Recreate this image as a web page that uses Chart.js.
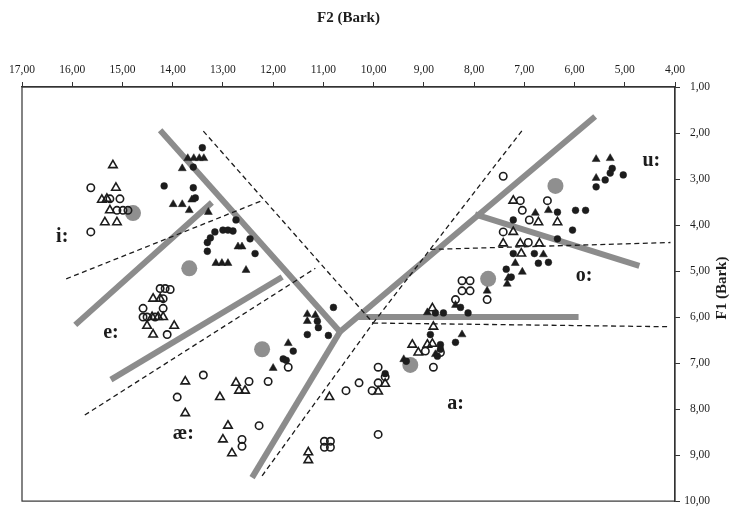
<!DOCTYPE html>
<html><head><meta charset="utf-8">
<script src="https://cdn.jsdelivr.net/npm/chart.js@4.4.1/dist/chart.umd.min.js"></script>
<style>html,body{margin:0;padding:0;background:#fff}</style>
</head><body>
<canvas id="c" width="736" height="514"></canvas>
<script>
// Axis ticks
const f2Ticks = [17,16,15,14,13,12,11,10,9,8,7,6,5,4];
const f1Ticks = [1,2,3,4,5,6,7,8,9,10];

// Vowel labels
const vowelLabels = ['i:','e:','æ:','a:','o:','u:'];
const labelF2 = [16.20,15.23,13.79,8.37,5.81,4.47];
const labelF1 = [4.25,6.34,8.53,7.89,5.11,2.60];

// Vowel means (big grey dots) [F2, F1]
const means = [[14.79,3.74],[13.67,4.94],[12.22,6.70],[9.27,7.04],[7.72,5.17],[6.38,3.15]];

// Open circles [F2, F1]
const openCircles = [
  [15.63,3.19],[15.25,3.43],[15.05,3.43],[15.11,3.68],[14.99,3.68],[14.89,3.68],[15.63,4.15],
  [14.25,5.38],[14.15,5.38],[14.05,5.40],[14.19,5.60],[14.59,5.81],[14.19,5.81],[14.59,6.00],[14.51,6.00],[14.35,6.00],[14.11,6.38],
  [11.70,7.09],[13.39,7.26],[12.48,7.40],[12.10,7.40],[13.91,7.74],[10.55,7.60],[12.28,8.36],[12.62,8.66],[12.62,8.81],
  [10.98,8.70],[10.86,8.70],[10.98,8.83],[10.86,8.83],
  [8.37,5.62],[8.24,5.21],[8.08,5.21],[8.24,5.43],[8.08,5.43],[7.74,5.62],[8.97,6.74],[8.67,6.77],[8.81,7.09],
  [9.91,7.09],[9.77,7.30],[10.29,7.43],[9.91,7.43],[10.03,7.60],[9.91,8.55],
  [7.42,2.94],[7.08,3.47],[6.54,3.47],[7.04,3.68],[6.90,3.89],[7.42,4.15],[6.92,4.38]
];

// Open triangles [F2, F1]
const openTriangles = [
  [15.19,2.70],[15.13,3.19],[15.41,3.45],[15.31,3.43],[15.25,3.68],[15.35,3.94],[15.11,3.94],
  [14.39,5.60],[14.25,5.60],[14.41,6.00],[14.29,6.00],[14.19,6.00],[14.51,6.19],[13.97,6.19],[14.39,6.38],
  [13.75,7.40],[12.74,7.43],[12.68,7.60],[12.56,7.60],[13.06,7.74],[10.88,7.74],[13.75,8.09],[12.90,8.36],
  [13.00,8.66],[12.82,8.96],[11.30,8.94],[11.30,9.11],
  [8.83,5.81],[8.81,6.21],[9.23,6.60],[8.93,6.60],[8.83,6.58],[9.11,6.77],[9.77,7.45],[9.91,7.62],
  [7.22,3.47],[6.72,3.94],[6.34,3.94],[7.22,4.15],[7.42,4.40],[7.08,4.40],[6.70,4.40],[7.06,4.62]
];

// Filled circles [F2, F1]
const filledCircles = [
  [13.41,2.32],[13.59,2.74],[14.17,3.15],[13.59,3.19],[13.55,3.41],[12.74,3.89],[13.00,4.11],[12.90,4.11],
  [12.80,4.13],[13.16,4.15],[13.25,4.28],[13.31,4.38],[13.31,4.57],[12.46,4.30],[12.36,4.62],
  [10.80,5.79],[11.12,6.09],[11.10,6.23],[11.32,6.38],[10.90,6.40],[11.60,6.74],[11.80,6.91],[11.74,6.94],
  [8.27,5.79],[8.77,5.91],[8.61,5.91],[8.12,5.91],[8.87,6.38],[8.37,6.55],[8.67,6.60],[8.67,6.70],[8.73,6.85],
  [9.35,6.96],[9.77,7.23],
  [6.34,3.72],[5.98,3.68],[5.78,3.68],[7.22,3.89],[6.04,4.11],[6.34,4.30],[7.22,4.62],[6.80,4.62],[6.72,4.83],
  [6.52,4.81],[7.36,4.96],[7.26,5.13],
  [5.25,2.77],[5.29,2.87],[5.39,3.02],[5.03,2.91],[5.57,3.17]
];

// Filled triangles [F2, F1]
const filledTriangles = [
  [13.70,2.55],[13.58,2.55],[13.47,2.55],[13.38,2.55],[13.81,2.77],[13.62,3.45],[13.99,3.55],[13.81,3.55],
  [13.67,3.68],[13.29,3.72],[12.70,4.47],[12.62,4.47],[13.14,4.83],[13.02,4.83],[12.90,4.83],[12.54,4.98],
  [11.32,5.94],[11.32,6.09],[11.16,5.96],[11.70,6.57],[12.00,7.11],
  [8.37,5.74],[8.93,5.90],[8.24,6.38],[8.77,6.81],[9.40,6.92],[7.74,5.43],
  [6.78,3.74],[6.52,3.68],[6.62,4.64],[7.18,4.83],[7.04,5.02],[7.32,5.15],[7.34,5.28],
  [5.57,2.57],[5.29,2.55],[5.57,2.98]
];

// Thick grey boundary lines (polylines) [F2, F1]
const boundaryLines = [
  [[14.25,1.94],[10.67,6.32]],
  [[15.94,6.17],[13.22,3.51]],
  [[15.23,7.36],[11.82,5.13]],
  [[12.42,9.49],[10.67,6.32]],
  [[10.67,6.32],[5.59,1.64]],
  [[10.31,6.00],[5.92,6.00]],
  [[7.98,3.77],[4.71,4.89]]
];

// Dashed boundary lines [F2, F1]
const dashedLines = [
  [[16.12,5.17],[12.22,3.47]],
  [[13.39,1.96],[10.01,6.13]],
  [[15.75,8.13],[11.16,4.94]],
  [[12.22,9.45],[10.01,6.13]],
  [[10.01,6.13],[4.13,6.21]],
  [[10.01,6.13],[7.04,1.94]],
  [[8.87,4.53],[4.09,4.38]]
];

const toXY = arr => arr.map(p => ({x: p[0], y: p[1]}));
const fmt = v => Number(v).toFixed(2).replace('.', ',');
const SERIF = "'Liberation Serif', 'DejaVu Serif', serif";
const INK = '#1c1c1c';

const datasets = [];
datasets.push({data: toXY(openCircles), pointStyle: 'circle', pointRadius: 3.7, borderWidth: 1.6,
  borderColor: INK, backgroundColor: 'rgba(0,0,0,0)', order: 0});
datasets.push({data: toXY(openTriangles), pointStyle: 'triangle', pointRadius: 4.9, borderWidth: 1.6,
  borderColor: INK, backgroundColor: 'rgba(0,0,0,0)', order: 0});
datasets.push({data: toXY(filledCircles), pointStyle: 'circle', pointRadius: 3.4, borderWidth: 0.5,
  borderColor: INK, backgroundColor: INK, order: 0});
datasets.push({data: toXY(filledTriangles), pointStyle: 'triangle', pointRadius: 4.6, borderWidth: 0.5,
  borderColor: INK, backgroundColor: INK, order: 0});
datasets.push({data: toXY(means), pointStyle: 'circle', pointRadius: 8, borderWidth: 0,
  backgroundColor: '#8f8f8f', order: 1});
dashedLines.forEach(l => datasets.push({data: toXY(l), showLine: true, pointRadius: 0,
  borderColor: INK, borderWidth: 1.3, borderDash: [5, 3.5], order: 2}));
boundaryLines.forEach(l => datasets.push({data: toXY(l), showLine: true, pointRadius: 0,
  borderColor: '#8c8c8c', borderWidth: 6, borderCapStyle: 'butt', order: 3}));

const decor = {
  id: 'decor',
  beforeDatasetsDraw(chart) {
    const {ctx, chartArea: a} = chart;
    ctx.save();
    ctx.strokeStyle = '#333';
    ctx.lineWidth = 1.2;
    ctx.strokeRect(a.left, a.top, a.right - a.left, a.bottom - a.top);
    ctx.restore();
  },
  afterDatasetsDraw(chart) {
    const {ctx, scales: {x, y}} = chart;
    ctx.save();
    ctx.fillStyle = INK;
    ctx.font = 'bold 20px ' + SERIF;
    ctx.textAlign = 'center';
    ctx.textBaseline = 'middle';
    vowelLabels.forEach((t, i) => ctx.fillText(t, x.getPixelForValue(labelF2[i]), y.getPixelForValue(labelF1[i])));
    ctx.restore();
  },
  afterDraw(chart) {
    const {ctx, chartArea: a} = chart;
    ctx.save();
    ctx.fillStyle = INK;
    ctx.font = 'bold 15px ' + SERIF;
    ctx.textAlign = 'center';
    ctx.textBaseline = 'middle';
    ctx.translate(722, (a.top + a.bottom) / 2 - 6);
    ctx.rotate(-Math.PI / 2);
    ctx.fillText('F1 (Bark)', 0, 0);
    ctx.restore();
  }
};

new Chart(document.getElementById('c'), {
  type: 'scatter',
  data: {datasets},
  options: {
    responsive: false,
    animation: false,
    layout: {padding: {left: 22, right: 26, top: 0, bottom: 4}},
    plugins: {legend: {display: false}, tooltip: {enabled: false}},
    scales: {
      x: {
        type: 'linear', position: 'top', reverse: true, min: 4, max: 17,
        afterBuildTicks: s => { s.ticks = f2Ticks.map(v => ({value: v})); },
        afterFit: s => { s.height = 87; },
        ticks: {callback: fmt, font: {family: SERIF, size: 11.5}, color: INK, padding: 5, maxRotation: 0, autoSkip: false},
        grid: {drawOnChartArea: false, tickLength: 5, color: '#333', lineWidth: 1},
        border: {color: '#333', width: 1.2},
        title: {display: true, text: 'F2 (Bark)', color: INK, font: {family: SERIF, size: 15, weight: 'bold'}, padding: {top: 9, bottom: 0}}
      },
      y: {
        type: 'linear', position: 'right', reverse: true, min: 1, max: 10,
        afterBuildTicks: s => { s.ticks = f1Ticks.map(v => ({value: v})); },
        afterFit: s => { s.width = 35; },
        ticks: {callback: fmt, font: {family: SERIF, size: 11.5}, color: INK, padding: 6, crossAlign: 'far', autoSkip: false},
        grid: {drawOnChartArea: false, tickLength: 5, color: '#333', lineWidth: 1},
        border: {color: '#333', width: 1.2}
      }
    }
  },
  plugins: [decor]
});
</script>
</body></html>
